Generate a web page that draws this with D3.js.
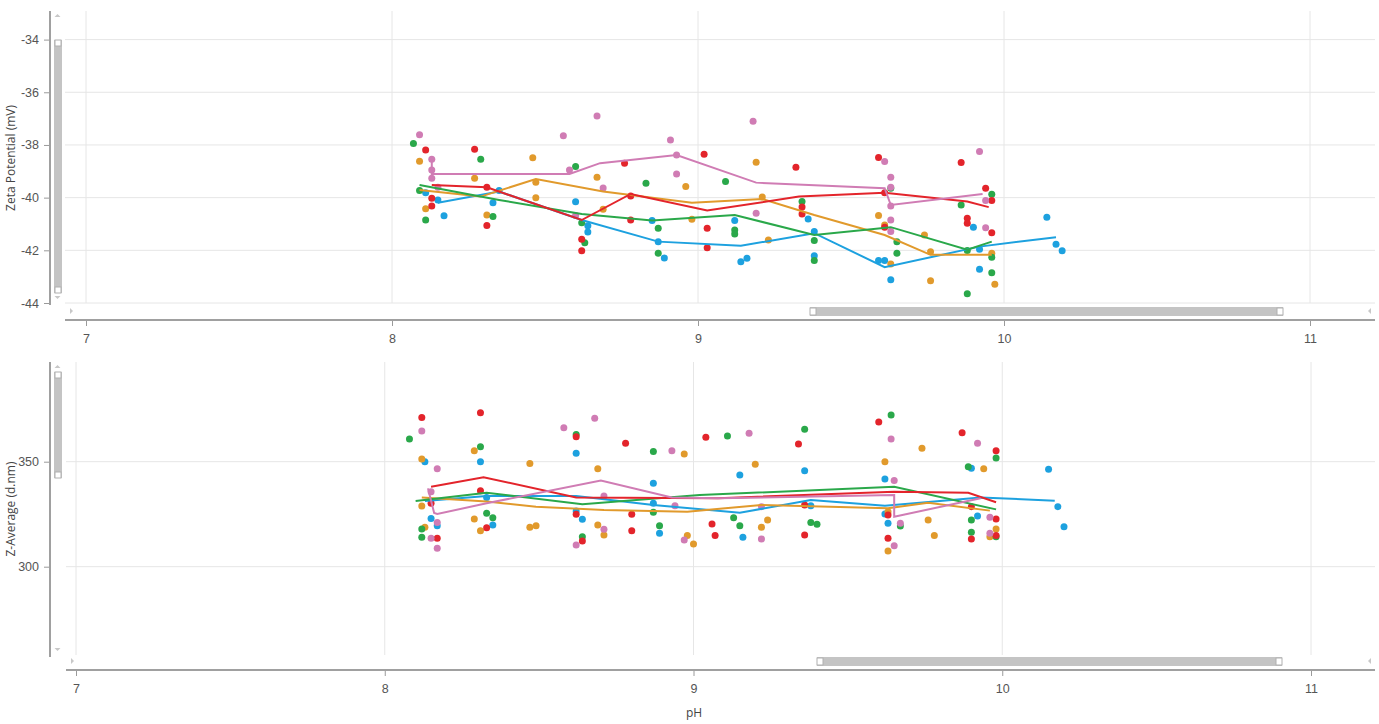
<!DOCTYPE html>
<html>
<head>
<meta charset="utf-8">
<script src="https://cdn.jsdelivr.net/npm/d3@7/dist/d3.min.js"></script>
<style>
  body { margin: 0; background: #fff; }
  svg { font-family: "Segoe UI", "Open Sans", "Noto Sans", sans-serif; }
  .tick text { fill: #555; font-size: 12.5px; }
  .tick line { stroke: #9a9a9a; }
</style>
</head>
<body>
<svg id="chart" width="1379" height="724"></svg>
<script>
// pH ticks shared by both panels
var phTicks = [7, 8, 9, 10, 11];
var zetaTicks = [-44, -42, -40, -38, -36, -34];
var zavgTicks = [300, 350];

// ---- Zeta potential (mV) vs pH ----
var blueZeta = [[8.11,-39.81],[8.15,-40.09],[8.17,-40.69],[8.33,-40.19],[8.35,-39.73],[8.60,-40.16],[8.64,-41.07],[8.64,-41.30],
  [8.85,-40.87],[8.87,-41.67],[8.89,-42.29],[9.12,-40.87],[9.14,-42.43],[9.16,-42.30],[9.36,-40.81],[9.38,-41.29],[9.38,-42.21],
  [9.59,-42.39],[9.61,-42.39],[9.63,-43.12],[9.90,-41.12],[9.92,-41.96],[9.92,-42.72],[10.14,-40.74],[10.17,-41.77],[10.19,-42.02]];
var blueZetaLine = [[8.15,-40.19],[8.35,-39.77],[8.62,-40.85],[8.87,-41.67],[9.14,-41.83],[9.38,-41.35],[9.61,-42.64],[9.92,-41.86],[10.17,-41.50]];

var orangeZeta = [[8.09,-38.62],[8.11,-40.42],[8.27,-39.26],[8.31,-40.66],[8.46,-38.49],[8.47,-39.42],[8.47,-40.00],[8.67,-39.23],
  [8.69,-40.44],[8.96,-39.58],[8.98,-40.82],[9.19,-38.66],[9.21,-39.98],[9.23,-41.61],[9.59,-40.68],[9.61,-41.04],[9.63,-42.52],
  [9.74,-41.42],[9.76,-42.05],[9.76,-43.16],[9.96,-42.11],[9.97,-43.29]];
var orangeZetaLine = [[8.09,-39.71],[8.29,-39.96],[8.47,-39.29],[8.69,-39.77],[8.98,-40.19],[9.21,-40.05],[9.38,-40.66],[9.61,-41.42],[9.76,-42.17],[9.96,-42.17]];

var greenZeta = [[8.07,-37.94],[8.09,-39.73],[8.11,-40.85],[8.29,-38.54],[8.33,-40.72],[8.60,-38.82],[8.62,-40.95],[8.63,-41.71],
  [8.83,-39.45],[8.87,-41.16],[8.87,-42.11],[9.09,-39.39],[9.12,-41.23],[9.12,-41.38],[9.34,-40.15],[9.38,-41.63],[9.38,-42.39],
  [9.63,-39.64],[9.65,-41.67],[9.65,-42.11],[9.86,-40.28],[9.88,-42.01],[9.88,-43.65],[9.96,-39.87],[9.96,-42.26],[9.96,-42.85]];
var greenZetaLine = [[8.09,-39.52],[8.35,-40.09],[8.62,-40.62],[8.85,-40.87],[9.12,-40.66],[9.38,-41.42],[9.63,-41.12],[9.88,-41.98],[9.96,-41.67]];

var redZeta = [[8.11,-38.19],[8.13,-40.02],[8.13,-40.32],[8.27,-38.16],[8.31,-39.61],[8.31,-41.06],[8.62,-41.58],[8.62,-42.02],
  [8.76,-38.69],[8.78,-39.94],[8.78,-40.85],[9.02,-38.35],[9.03,-41.16],[9.03,-41.90],[9.32,-38.85],[9.34,-40.36],[9.34,-40.62],
  [9.59,-38.48],[9.61,-39.81],[9.61,-41.12],[9.86,-38.67],[9.88,-40.78],[9.88,-40.97],[9.94,-39.64],[9.96,-40.11],[9.96,-41.33]];
var redZetaLine = [[8.13,-39.52],[8.31,-39.61],[8.62,-40.85],[8.78,-39.86],[9.03,-40.49],[9.33,-39.96],[9.61,-39.81],[9.88,-40.15],[9.95,-40.36]];

var pinkZeta = [[8.09,-37.61],[8.13,-38.54],[8.13,-38.95],[8.13,-39.26],[8.15,-39.61],[8.56,-37.65],[8.58,-38.95],[8.60,-40.68],
  [8.67,-36.90],[8.69,-39.63],[8.91,-37.81],[8.93,-38.38],[8.93,-39.10],[9.18,-37.10],[9.19,-40.59],[9.61,-38.63],[9.63,-39.23],
  [9.63,-39.61],[9.63,-40.32],[9.63,-40.85],[9.63,-41.29],[9.92,-38.25],[9.94,-40.11],[9.94,-41.14]];
var pinkZetaLine = [[8.13,-38.57],[8.13,-39.10],[8.58,-39.10],[8.68,-38.69],[8.93,-38.38],[9.19,-39.43],[9.61,-39.64],[9.63,-40.28],[9.93,-39.86]];

// ---- Z-Average (d.nm) vs pH ----
var blueZavg = [[8.13,350.0],[8.15,323.0],[8.17,319.5],[8.31,350.0],[8.33,333.0],[8.35,319.9],[8.62,354.0],[8.62,326.5],[8.64,322.6],
  [8.87,339.7],[8.87,330.2],[8.89,315.9],[9.15,343.7],[9.16,314.0],[9.36,345.7],[9.38,329.0],[9.62,341.8],[9.62,325.1],[9.63,320.7],
  [9.90,346.9],[9.92,324.1],[10.15,346.4],[10.18,328.6],[10.20,319.0]];
var blueZavgLine = [[8.13,331.3],[8.33,333.7],[8.62,333.7],[8.87,329.4],[9.15,325.7],[9.38,331.8],[9.62,329.0],[9.93,333.0],[10.17,331.4]];

var orangeZavg = [[8.12,351.3],[8.12,328.9],[8.13,318.8],[8.29,355.2],[8.29,322.7],[8.31,317.1],[8.47,349.2],[8.47,318.8],[8.49,319.5],
  [8.69,346.7],[8.69,319.9],[8.71,315.1],[8.97,353.7],[8.98,314.8],[9.00,310.8],[9.20,348.8],[9.22,318.8],[9.24,322.2],
  [9.62,350.0],[9.63,326.2],[9.63,307.5],[9.74,356.4],[9.76,322.2],[9.78,314.8],[9.94,346.7],[9.96,314.3],[9.98,318.0]];
var orangeZavgLine = [[8.12,333.0],[8.33,331.0],[8.49,328.6],[8.71,327.0],[8.98,326.2],[9.22,329.4],[9.63,327.8],[9.76,330.5],[9.96,326.7]];

var greenZavg = [[8.08,360.8],[8.12,318.0],[8.12,314.0],[8.31,357.1],[8.33,325.4],[8.35,323.3],[8.62,363.0],[8.64,314.3],
  [8.87,354.8],[8.87,325.9],[8.89,319.5],[9.11,362.2],[9.13,323.3],[9.15,319.5],[9.36,365.4],[9.38,321.1],[9.40,320.2],
  [9.64,372.2],[9.67,319.4],[9.89,347.6],[9.90,322.2],[9.90,316.4],[9.98,351.8],[9.98,314.3]];
var greenZavgLine = [[8.10,331.3],[8.33,335.2],[8.64,329.7],[9.02,334.1],[9.65,338.1],[9.98,327.3]];

var redZavg = [[8.12,371.0],[8.15,330.2],[8.17,313.5],[8.31,373.3],[8.31,336.2],[8.33,318.6],[8.62,361.9],[8.62,325.0],[8.64,312.2],
  [8.78,358.8],[8.80,325.0],[8.80,317.1],[9.04,361.6],[9.06,320.3],[9.07,314.8],[9.34,358.4],[9.36,329.4],[9.36,315.1],
  [9.60,368.9],[9.63,324.6],[9.63,313.5],[9.87,363.8],[9.90,328.6],[9.90,313.2],[9.98,355.2],[9.98,322.7],[9.98,314.8]];
var redZavgLine = [[8.15,338.1],[8.32,342.6],[8.62,333.0],[9.08,332.6],[9.65,335.7],[9.89,335.2],[9.98,330.7]];

var pinkZavg = [[8.12,364.6],[8.15,335.7],[8.17,346.7],[8.17,321.0],[8.17,308.8],[8.15,313.5],[8.58,366.2],[8.68,370.7],[8.62,310.3],
  [8.71,333.7],[8.71,317.8],[8.93,355.2],[8.94,329.0],[8.97,312.7],[9.18,363.5],[9.22,328.6],[9.22,313.2],
  [9.64,360.8],[9.65,341.0],[9.67,320.7],[9.65,310.0],[9.92,358.8],[9.96,323.5],[9.96,315.9]];
var pinkZavgLine = [[8.14,337.3],[8.16,325.6],[8.17,325.1],[8.33,330.2],[8.70,341.0],[8.93,333.0],[9.08,332.6],[9.65,334.1],[9.65,323.8],[9.93,332.6]];

var colors = { blue: "#1da1df", orange: "#e19a2c", green: "#2aa84a", red: "#e3242b", pink: "#d07cb4" };

var series = [
  { color: colors.blue,   zeta: blueZeta,   zetaLine: blueZetaLine,   zavg: blueZavg,   zavgLine: blueZavgLine },
  { color: colors.orange, zeta: orangeZeta, zetaLine: orangeZetaLine, zavg: orangeZavg, zavgLine: orangeZavgLine },
  { color: colors.green,  zeta: greenZeta,  zetaLine: greenZetaLine,  zavg: greenZavg,  zavgLine: greenZavgLine },
  { color: colors.red,    zeta: redZeta,    zetaLine: redZetaLine,    zavg: redZavg,    zavgLine: redZavgLine },
  { color: colors.pink,   zeta: pinkZeta,   zetaLine: pinkZetaLine,   zavg: pinkZavg,   zavgLine: pinkZavgLine }
];

var svg = d3.select("#chart");
const RIGHT = 1375, AXIS_X = 50;

function drawPanel(p) {
  var x = d3.scaleLinear().domain([7, 11]).range(p.xr);
  var y = d3.scaleLinear().domain(p.yd).range(p.yr);
  var g = svg.append("g");

  // grid
  g.selectAll(".vg").data(phTicks).enter().append("line")
    .attr("x1", d => x(d)).attr("x2", d => x(d))
    .attr("y1", p.top).attr("y2", p.bottom)
    .attr("stroke", "#e6e6e6");
  g.selectAll(".hg").data(p.yTicks).enter().append("line")
    .attr("x1", p.left).attr("x2", RIGHT)
    .attr("y1", d => y(d)).attr("y2", d => y(d))
    .attr("stroke", "#e6e6e6");

  // x axis
  var xa = g.append("g").attr("transform", "translate(0," + p.axisY + ")")
    .call(d3.axisBottom(x).tickValues(phTicks).tickSize(6).tickPadding(8).tickFormat(d => String(d)));
  xa.select(".domain").remove();
  g.append("line").attr("x1", p.left).attr("x2", RIGHT)
    .attr("y1", p.axisY).attr("y2", p.axisY)
    .attr("stroke", "#a0a0a0").attr("stroke-width", 2);

  // y axis (plain hyphen for negatives, as in the original)
  var ya = g.append("g").attr("transform", "translate(" + AXIS_X + ",0)")
    .call(d3.axisLeft(y).tickValues(p.yTicks).tickSize(6).tickPadding(5).tickFormat(d => String(d)));
  ya.select(".domain").remove();
  g.append("line").attr("x1", AXIS_X).attr("x2", AXIS_X)
    .attr("y1", p.top).attr("y2", p.bottom + 2)
    .attr("stroke", "#a0a0a0").attr("stroke-width", 2);

  g.append("text")
    .attr("transform", "translate(11," + p.titleY + ") rotate(-90)")
    .attr("text-anchor", "middle").attr("dy", "0.35em")
    .attr("font-size", 12).attr("fill", "#444")
    .text(p.title);

  // vertical scrollbar
  g.append("path").attr("d", "M" + 54.5 + "," + (p.top + 6) + "l3,-3l3,3z").attr("fill", "#c8c8c8");
  g.append("path").attr("d", "M" + 54.5 + "," + (p.bottom - 7) + "l3,3l3,-3z").attr("fill", "#c8c8c8");
  g.append("rect").attr("x", 54).attr("y", p.vThumb[0]).attr("width", 8).attr("height", p.vThumb[1] - p.vThumb[0])
    .attr("fill", "#c4c4c4");
  [p.vThumb[0], p.vThumb[1] - 6].forEach(function(t) {
    g.append("rect").attr("x", 55).attr("y", t).attr("width", 6).attr("height", 6)
      .attr("fill", "#fff").attr("stroke", "#b0b0b0");
  });

  // horizontal scrollbar
  var sy = p.axisY - 9;
  g.append("path").attr("d", "M" + (p.left + 8) + "," + sy + "l-3,-3v6z").attr("fill", "#c8c8c8");
  g.append("path").attr("d", "M" + (RIGHT - 7) + "," + sy + "l3,-3v6z").attr("fill", "#c8c8c8");
  g.append("rect").attr("x", p.hThumb[0]).attr("y", sy - 4).attr("width", p.hThumb[1] - p.hThumb[0]).attr("height", 9)
    .attr("fill", "#c4c4c4");
  [p.hThumb[0], p.hThumb[1] - 6].forEach(function(t) {
    g.append("rect").attr("x", t).attr("y", sy - 3).attr("width", 6).attr("height", 7)
      .attr("fill", "#fff").attr("stroke", "#b0b0b0");
  });

  // points
  series.forEach(function(s) {
    g.append("g").selectAll("circle").data(s[p.key]).enter().append("circle")
      .attr("cx", d => x(d[0])).attr("cy", d => y(d[1])).attr("r", 3.5)
      .attr("fill", s.color);
  });

  // mean lines
  var line = d3.line().x(d => x(d[0])).y(d => y(d[1]));
  series.forEach(function(s) {
    g.append("path").datum(s[p.key + "Line"])
      .attr("d", line).attr("fill", "none")
      .attr("stroke", s.color).attr("stroke-width", 2);
  });
}

drawPanel({
  key: "zeta", title: "Zeta Potential (mV)", titleY: 158,
  xr: [86, 1310], yd: [-44, -34], yr: [303, 39.6], yTicks: zetaTicks,
  left: 65, top: 11, bottom: 303, axisY: 320,
  vThumb: [40, 293], hThumb: [810, 1283]
});

drawPanel({
  key: "zavg", title: "Z-Average (d.nm)", titleY: 509,
  xr: [76, 1311], yd: [300, 350], yr: [566.7, 461.7], yTicks: zavgTicks,
  left: 66, top: 362, bottom: 655, axisY: 670,
  vThumb: [372, 478], hThumb: [817, 1282]
});

svg.append("text").attr("x", 694).attr("y", 717)
  .attr("text-anchor", "middle").attr("font-size", 12).attr("fill", "#444")
  .text("pH");
</script>
</body>
</html>
